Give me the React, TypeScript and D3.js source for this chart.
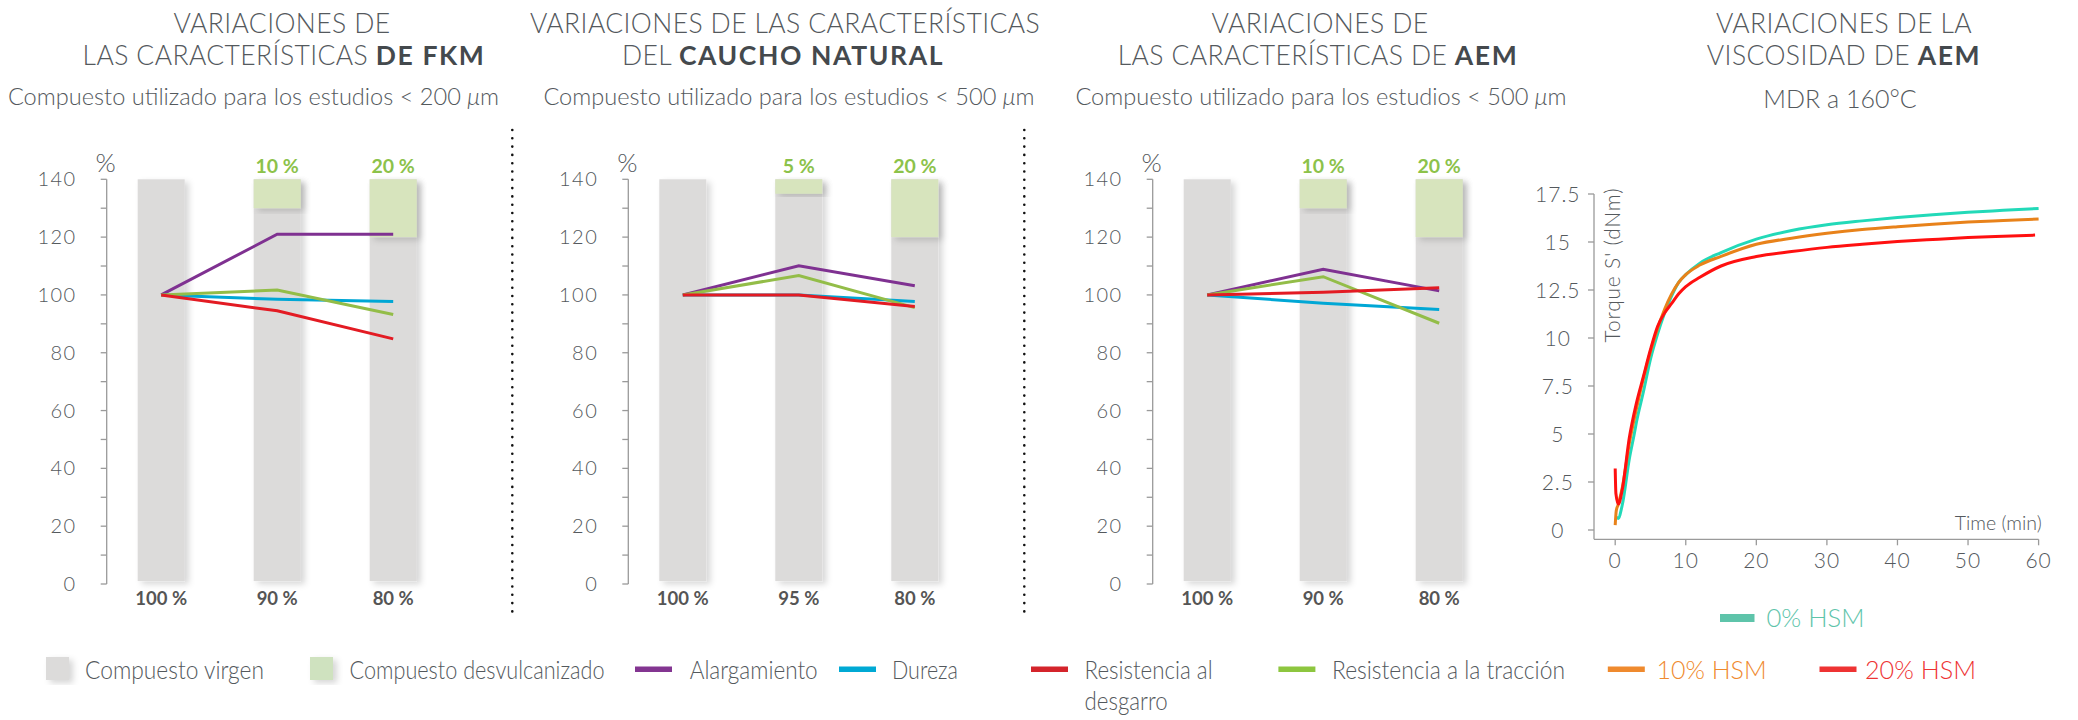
import React from 'react';
import * as d3 from 'd3';

// ---------- bar panels: FKM ----------
const fkmCategories = ['100 %', '90 %', '80 %'];
const fkmDesvulcanizado = [0, 10, 20];
const fkmDesvulLabels = ['', '10 %', '20 %'];
const fkmAlargamiento = [100, 121, 121];
const fkmDureza = [100, 98.5, 97.7];
const fkmTraccion = [100, 101.7, 93.2];
const fkmDesgarro = [100, 94.5, 84.8];

// ---------- caucho natural ----------
const ncCategories = ['100 %', '95 %', '80 %'];
const ncDesvulcanizado = [0, 5, 20];
const ncDesvulLabels = ['', '5 %', '20 %'];
const ncAlargamiento = [100, 110.1, 103.2];
const ncDureza = [100, 100, 97.7];
const ncTraccion = [100, 106.7, 95.6];
const ncDesgarro = [100, 100, 96];

// ---------- AEM ----------
const aemCategories = ['100 %', '90 %', '80 %'];
const aemDesvulcanizado = [0, 10, 20];
const aemDesvulLabels = ['', '10 %', '20 %'];
const aemAlargamiento = [100, 108.9, 101.4];
const aemDureza = [100, 97.1, 95];
const aemTraccion = [100, 106.3, 90.2];
const aemDesgarro = [100, 100.9, 102.5];

const pctTicks = [0, 10, 20, 30, 40, 50, 60, 70, 80, 90, 100, 110, 120, 130, 140];

// ---------- MDR curves (AEM viscosity) ----------
const hsm0Time = [0.2, 0.4, 1, 2, 2.7, 3, 4, 5, 6, 7, 8, 9, 10, 12, 15, 20, 25, 30, 35, 40, 45, 50, 55, 60];
const hsm0Torque = [0.7, 0.6, 1.3, 3.7, 5.0, 5.6, 7.2, 8.9, 10.2, 11.3, 12.2, 12.9, 13.3, 13.9, 14.45, 15.15, 15.6, 15.9, 16.1, 16.27, 16.42, 16.55, 16.65, 16.75];
const hsm10Time = [0, 0.15, 0.4, 1, 2, 3, 4, 5, 6, 7, 8, 9, 10, 12, 15, 20, 25, 30, 35, 40, 45, 50, 55, 60];
const hsm10Torque = [0.25, 1.0, 1.3, 2.2, 4.5, 6.3, 7.9, 9.3, 10.5, 11.5, 12.3, 12.9, 13.3, 13.8, 14.25, 14.88, 15.2, 15.45, 15.65, 15.8, 15.93, 16.04, 16.12, 16.2];
const hsm20Time = [0, 0.1, 0.45, 1, 2, 3, 4, 5, 6, 7, 8, 9, 10, 12, 15, 20, 25, 30, 35, 40, 45, 50, 55, 59.5];
const hsm20Torque = [3.2, 1.9, 1.35, 2.1, 4.8, 6.6, 8.0, 9.4, 10.6, 11.3, 11.8, 12.3, 12.67, 13.16, 13.75, 14.24, 14.5, 14.72, 14.88, 15.02, 15.13, 15.23, 15.3, 15.36];
const torqueTicks = [0, 2.5, 5, 7.5, 10, 12.5, 15, 17.5];
const timeTicks = [0, 10, 20, 30, 40, 50, 60];

const C = {
  virgen: '#dcdbda',
  desvul: '#d7e4bd',
  alarg: '#7f3191',
  dureza: '#00a7d5',
  desgarro: '#e31b23',
  traccion: '#93bd48',
  hsm0: '#22d9b8',
  hsm10: '#e8821a',
  hsm20: '#ff1010',
  text: '#54595d',
  axis: '#9a9a9a',
  greenLabel: '#8cc24a',
};

const FONT = "Lato, 'Open Sans', sans-serif";

function BarPanel({ axisX, categories, desvul, desvulLabels, series }: any) {
  const y = d3.scaleLinear().domain([0, 140]).range([584, 179.3]);
  const x = d3.scalePoint<string>().domain(categories).range([axisX + 54.5, axisX + 286.5]);
  const bw = 47;
  const line = d3.line<number>()
    .x((_, i) => x(categories[i]) as number)
    .y(d => y(d));
  return (
    <g>
      {categories.map((c: string) => (
        <rect key={'b' + c} x={(x(c) as number) - bw / 2} y={y(140)} width={bw}
          height={y(1) - y(140)} fill={C.virgen} filter="url(#shadow)" />
      ))}
      {categories.map((c: string, i: number) => desvul[i] > 0 && (
        <rect key={'g' + c} x={(x(c) as number) - bw / 2} y={y(140)} width={bw}
          height={y(140 - desvul[i]) - y(140)} fill={C.desvul} filter="url(#shadow)" />
      ))}
      <line x1={axisX} x2={axisX} y1={y(0)} y2={y(140)} stroke={C.axis} strokeWidth={1.3} />
      {pctTicks.map(t => (
        <line key={'t' + t} x1={axisX - 6} x2={axisX} y1={y(t)} y2={y(t)} stroke={C.axis} strokeWidth={1.3} />
      ))}
      {pctTicks.filter(t => t % 20 === 0).map(t => (
        <text key={'l' + t} x={axisX - 30} y={y(t) + 7} textAnchor="end" fontSize={20}
          letterSpacing={1.5} fill={C.text} fontWeight={300}>{t}</text>
      ))}
      <text x={axisX - 1} y={171.7} textAnchor="middle" fontSize={26} fill={C.text} fontWeight={300}>%</text>
      {categories.map((c: string, i: number) => (
        <g key={'c' + c}>
          <text x={x(c)} y={173} textAnchor="middle" fontSize={19.5} fontWeight={700} fill={C.greenLabel}>{desvulLabels[i]}</text>
          <text x={x(c)} y={605} textAnchor="middle" fontSize={18.5} fontWeight={700} fill="#555">{c}</text>
        </g>
      ))}
      {series.map((s: any) => (
        <path key={s.name} d={line(s.values) as string} fill="none" stroke={s.color} strokeWidth={3} />
      ))}
    </g>
  );
}

function Title({ cx, lines, sub, subY = 105, subSize = 23.6 }: any) {
  return (
    <g fill={C.text} textAnchor="middle">
      {lines.map((l: any, i: number) => (
        <text key={i} x={cx + (l.dx || 0)} y={33 + i * 32} fontSize={26.5} fontWeight={300} letterSpacing={0.4}>
          {l.text}
          {l.bold && <tspan fontWeight={700} fill="#44494d" letterSpacing={1.6}>{l.bold}</tspan>}
        </text>
      ))}
      <text x={sub.cx} y={subY} fontSize={subSize} fontWeight={300}>
        {sub.text}
        {sub.unit && <tspan fontStyle="italic">μ</tspan>}
        {sub.unit && 'm'}
      </text>
    </g>
  );
}

// legend layout: swatch x, text x, text width
const legendItems = [
  { label: 'Compuesto virgen', kind: 'box', color: C.virgen, sx: 46, tx: 85, w: 179 },
  { label: 'Compuesto desvulcanizado', kind: 'box', color: '#cfe2bf', sx: 310, tx: 349.5, w: 255 },
  { label: 'Alargamiento', kind: 'line', color: '#833591', sx: 635, tx: 689.7, w: 128 },
  { label: 'Dureza', kind: 'line', color: '#00a9d4', sx: 839, tx: 892, w: 66 },
  { label: 'Resistencia al', label2: 'desgarro', kind: 'line', color: '#d4242b', sx: 1031, tx: 1084.6, w: 128, w2: 83 },
  { label: 'Resistencia a la tracción', kind: 'line', color: '#8dc63f', sx: 1278.4, tx: 1332, w: 233 },
  { label: '10% HSM', kind: 'line', color: '#ef8a2e', sx: 1607.8, tx: 1656.6, w: 110, textColor: '#ef8a2e' },
  { label: '20% HSM', kind: 'line', color: '#ee3333', sx: 1819.5, tx: 1865, w: 111, textColor: '#ee3333' },
];

function LegendText({ x, y, w, children, fill }: any) {
  return (
    <text x={x} y={y} textLength={w} lengthAdjust="spacingAndGlyphs" fontSize={26} fontWeight={300}
      fill={fill}>{children}</text>
  );
}

function MdrPanel() {
  const tx = d3.scaleLinear().domain([0, 60]).range([1615.2, 2038.6]);
  const ty = d3.scaleLinear().domain([0, 17.5]).range([530, 194]);
  const axisX = 1594, axisY = 539.3;
  const line = d3.line<number>().curve(d3.curveMonotoneX);
  const mk = (ts: number[], vs: number[]) => line(ts.map((t, i) => [tx(t), ty(vs[i])]) as any) as string;
  return (
    <g>
      <line x1={axisX} x2={axisX} y1={ty(17.5)} y2={axisY} stroke={C.axis} strokeWidth={1.3} />
      <line x1={axisX} x2={tx(60)} y1={axisY} y2={axisY} stroke={C.axis} strokeWidth={1.3} />
      {torqueTicks.map(t => (
        <g key={'y' + t}>
          <line x1={axisX - 6} x2={axisX} y1={ty(t)} y2={ty(t)} stroke={C.axis} strokeWidth={1.3} />
          <text x={1557.8} y={ty(t) + 7.5} textAnchor="middle" fontSize={21} letterSpacing={1}
            fill={C.text} fontWeight={300}>{t}</text>
        </g>
      ))}
      {timeTicks.map(t => (
        <g key={'x' + t}>
          <line x1={tx(t)} x2={tx(t)} y1={axisY} y2={axisY + 6} stroke={C.axis} strokeWidth={1.3} />
          <text x={tx(t)} y={567.5} textAnchor="middle" fontSize={21} letterSpacing={1}
            fill={C.text} fontWeight={300}>{t}</text>
        </g>
      ))}
      <text transform="translate(1620,265) rotate(-90)" textAnchor="middle" fontSize={21} letterSpacing={0.8}
        fill={C.text} fontWeight={300}>Torque S' (dNm)</text>
      <text x={2041.7} y={530} textAnchor="end" fontSize={19.5} fill={C.text} fontWeight={300}>Time (min)</text>
      <path d={mk(hsm0Time, hsm0Torque)} fill="none" stroke={C.hsm0} strokeWidth={3} />
      <path d={mk(hsm10Time, hsm10Torque)} fill="none" stroke={C.hsm10} strokeWidth={3} />
      <path d={mk(hsm20Time, hsm20Torque)} fill="none" stroke={C.hsm20} strokeWidth={3} />
      <rect x={1720} y={614} width={34.5} height={8} fill="#5ec4aa" />
      <LegendText x={1766.5} y={627} w={98} fill="#5ec4aa">0% HSM</LegendText>
    </g>
  );
}

export default function App() {
  const mkSeries = (a: number[], d: number[], t: number[], r: number[]) => [
    { name: 'alarg', color: C.alarg, values: a },
    { name: 'dureza', color: C.dureza, values: d },
    { name: 'traccion', color: C.traccion, values: t },
    { name: 'desgarro', color: C.desgarro, values: r },
  ];
  return (
    <svg width={2078} height={720} style={{ position: 'absolute', left: 0, top: 0, background: '#fff' }}
      fontFamily={FONT}>
      <defs>
        <filter id="shadow" x="-30%" y="-10%" width="170%" height="130%">
          <feDropShadow dx={4} dy={3} stdDeviation={3} floodColor="#000" floodOpacity={0.16} />
        </filter>
      </defs>

      <Title cx={282}
        lines={[{ text: 'VARIACIONES DE' }, { text: 'LAS CARACTERÍSTICAS ', bold: 'DE FKM', dx: 2 }]}
        sub={{ cx: 253.5, text: 'Compuesto utilizado para los estudios < 200 ', unit: true }} />
      <Title cx={785}
        lines={[{ text: 'VARIACIONES DE LAS CARACTERÍSTICAS' }, { text: 'DEL ', bold: 'CAUCHO NATURAL', dx: -2 }]}
        sub={{ cx: 789, text: 'Compuesto utilizado para los estudios < 500 ', unit: true }} />
      <Title cx={1320}
        lines={[{ text: 'VARIACIONES DE' }, { text: 'LAS CARACTERÍSTICAS DE ', bold: 'AEM', dx: -2 }]}
        sub={{ cx: 1321, text: 'Compuesto utilizado para los estudios < 500 ', unit: true }} />
      <Title cx={1844}
        lines={[{ text: 'VARIACIONES DE LA' }, { text: 'VISCOSIDAD DE ', bold: 'AEM' }]}
        sub={{ cx: 1840, text: 'MDR a 160°C' }} subY={108} subSize={25} />

      <BarPanel axisX={106.7} categories={fkmCategories} desvul={fkmDesvulcanizado}
        desvulLabels={fkmDesvulLabels} series={mkSeries(fkmAlargamiento, fkmDureza, fkmTraccion, fkmDesgarro)} />
      <BarPanel axisX={628.3} categories={ncCategories} desvul={ncDesvulcanizado}
        desvulLabels={ncDesvulLabels} series={mkSeries(ncAlargamiento, ncDureza, ncTraccion, ncDesgarro)} />
      <BarPanel axisX={1152.7} categories={aemCategories} desvul={aemDesvulcanizado}
        desvulLabels={aemDesvulLabels} series={mkSeries(aemAlargamiento, aemDureza, aemTraccion, aemDesgarro)} />

      {[512.3, 1024.3].map(x => (
        <line key={x} x1={x} x2={x} y1={130} y2={616} stroke="#111" strokeWidth={2.6}
          strokeDasharray="0 8.3" strokeLinecap="round" />
      ))}

      <MdrPanel />

      {legendItems.map(it => (
        <g key={it.label}>
          {it.kind === 'box'
            ? <rect x={it.sx} y={657} width={23} height={23} fill={it.color} filter="url(#shadow)" />
            : <rect x={it.sx} y={666.5} width={37} height={5.5} fill={it.color} />}
          <LegendText x={it.tx} y={679} w={it.w} fill={it.textColor || C.text}>{it.label}</LegendText>
          {it.label2 && <LegendText x={it.tx} y={710} w={it.w2} fill={C.text}>{it.label2}</LegendText>}
        </g>
      ))}
    </svg>
  );
}
